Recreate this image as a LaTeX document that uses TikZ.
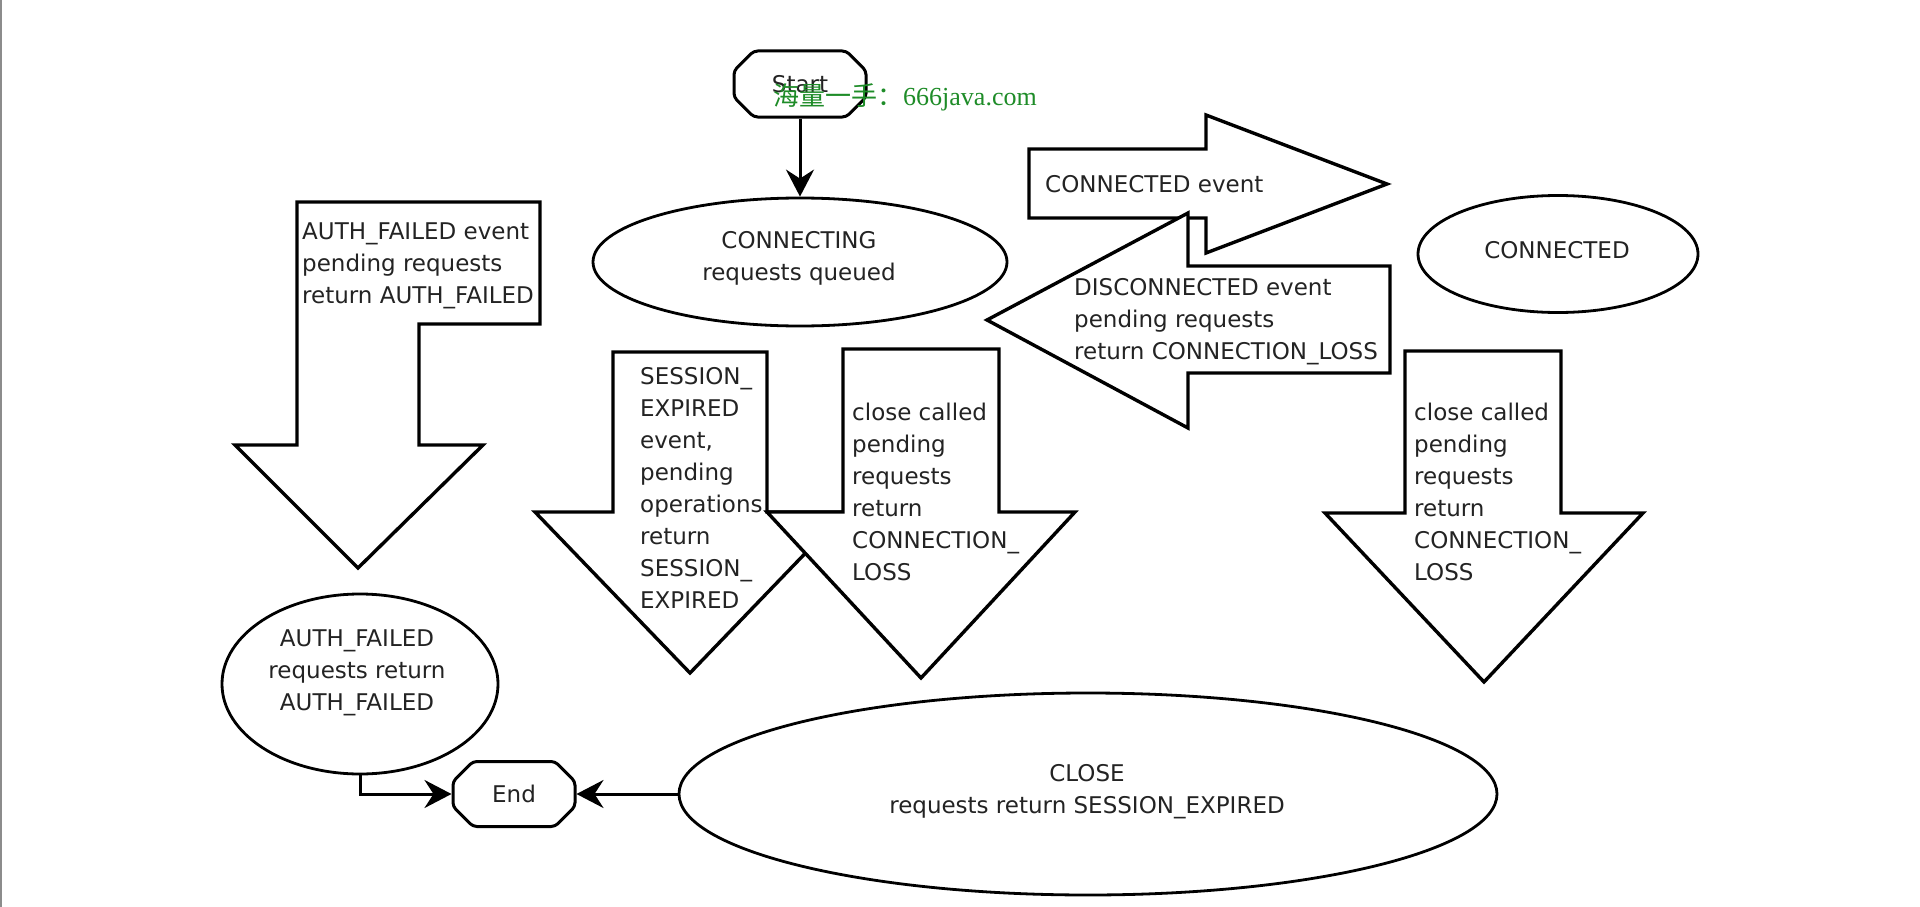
\documentclass[tikz,border=0pt]{standalone}
\usepackage{fontspec}
\setmainfont{DejaVu Sans}
\newfontfamily\cjk{Noto Sans CJK SC}
\newfontfamily\wmlatin{Liberation Serif}
\usetikzlibrary{shapes.geometric,shapes.misc,arrows.meta}
\definecolor{wmgreen}{RGB}{30,140,40}
\definecolor{ink}{RGB}{35,35,35}
\begin{document}
\begin{tikzpicture}[x=1pt,y=-1pt,
  txt/.style={inner sep=0pt, font=\fontsize{23}{32}\selectfont, text=ink},
  blockarrow/.style={draw=black, line width=3.4pt, fill=white, line join=miter},
  stateell/.style={ellipse, draw=black, line width=2.8pt, inner sep=0pt},
  termbox/.style={chamfered rectangle, chamfered rectangle xsep=11pt, chamfered rectangle ysep=11pt,
    rounded corners=4pt, draw=black, line width=3pt, inner sep=0pt,
    font=\fontsize{23}{32}\selectfont, text=ink},
  conn/.style={draw=black, line width=3pt, -{Stealth[length=27pt,width=28pt,inset=9pt]}},
  wm/.style={inner sep=0pt, text=wmgreen, font=\fontsize{26}{30}\selectfont}
]
\useasboundingbox (0,0) rectangle (1920,907);
\fill[white] (0,0) rectangle (1920,907);
\draw[black!45, line width=2pt] (1,0) -- (1,907);

% terminals
\node[termbox, minimum width=132pt, minimum height=66pt] (start) at (800,84) {Start};
\node[termbox, minimum width=122pt, minimum height=65pt] (endbox) at (514,794) {End};

% states
\node[stateell, minimum width=414pt, minimum height=128pt] (connecting) at (800,262) {};
\node[txt, align=center] (connectingT) at (799,258) {CONNECTING\\requests queued};

\node[stateell, minimum width=280pt, minimum height=117pt] (connected) at (1558,254) {};
\node[txt] (connectedT) at (1557,250) {CONNECTED};

\node[stateell, minimum width=276pt, minimum height=180pt] (auth) at (360,684) {};
\node[txt, align=center] (authT) at (357,673) {AUTH\_FAILED\\requests return\\AUTH\_FAILED};

\node[stateell, minimum width=818pt, minimum height=202pt] (close) at (1088,794) {};
\node[txt, align=center] (closeT) at (1087,792) {CLOSE\\requests return SESSION\_EXPIRED};

% block arrows
\draw[blockarrow] (297,202) -- (540,202) -- (540,324) -- (419,324) -- (419,445) -- (483,445)
  -- (358,568) -- (235,445) -- (297,445) -- cycle;
\node[txt, align=left, anchor=west] (authEv) at (302,266)
  {AUTH\_FAILED event\\pending requests\\return AUTH\_FAILED};

\draw[blockarrow] (613,352) -- (767,352) -- (767,512) -- (845,512) -- (690,673)
  -- (535,512) -- (613,512) -- cycle;
\node[txt, align=left, anchor=west] (sessEv) at (640,488)
  {SESSION\_\\EXPIRED\\event,\\pending\\operations\\return\\SESSION\_\\EXPIRED};

\draw[blockarrow] (843,349) -- (999,349) -- (999,512) -- (1075,512) -- (921,678)
  -- (767,512) -- (843,512) -- cycle;
\node[txt, align=left, anchor=west] (closeEvA) at (852,492)
  {close called\\pending\\requests\\return\\CONNECTION\_\\LOSS};

\draw[blockarrow] (1405,351) -- (1561,351) -- (1561,513) -- (1643,513) -- (1484,682)
  -- (1325,513) -- (1405,513) -- cycle;
\node[txt, align=left, anchor=west] (closeEvB) at (1414,492)
  {close called\\pending\\requests\\return\\CONNECTION\_\\LOSS};

\draw[blockarrow] (1029,149) -- (1206,149) -- (1206,115) -- (1387,184) -- (1206,253)
  -- (1206,218) -- (1029,218) -- cycle;
\node[txt, anchor=west] (connEv) at (1045,184) {CONNECTED event};

\draw[blockarrow] (1390,266) -- (1188,266) -- (1188,213) -- (987,320) -- (1188,428)
  -- (1188,373) -- (1390,373) -- cycle;
\node[txt, align=left, anchor=west] (discEv) at (1074,322)
  {DISCONNECTED event\\pending requests\\return CONNECTION\_LOSS};

% connectors
\draw[conn] (start.south) -- (connecting.north);
\draw[conn] (auth.south) |- (endbox.west);
\draw[conn] (close.west) -- (endbox.east);

% watermark
\node[wm, anchor=west] (wmark) at (773,97) {{\cjk 海量一手：}{\wmlatin 666java.com}};
\end{tikzpicture}
\end{document}
